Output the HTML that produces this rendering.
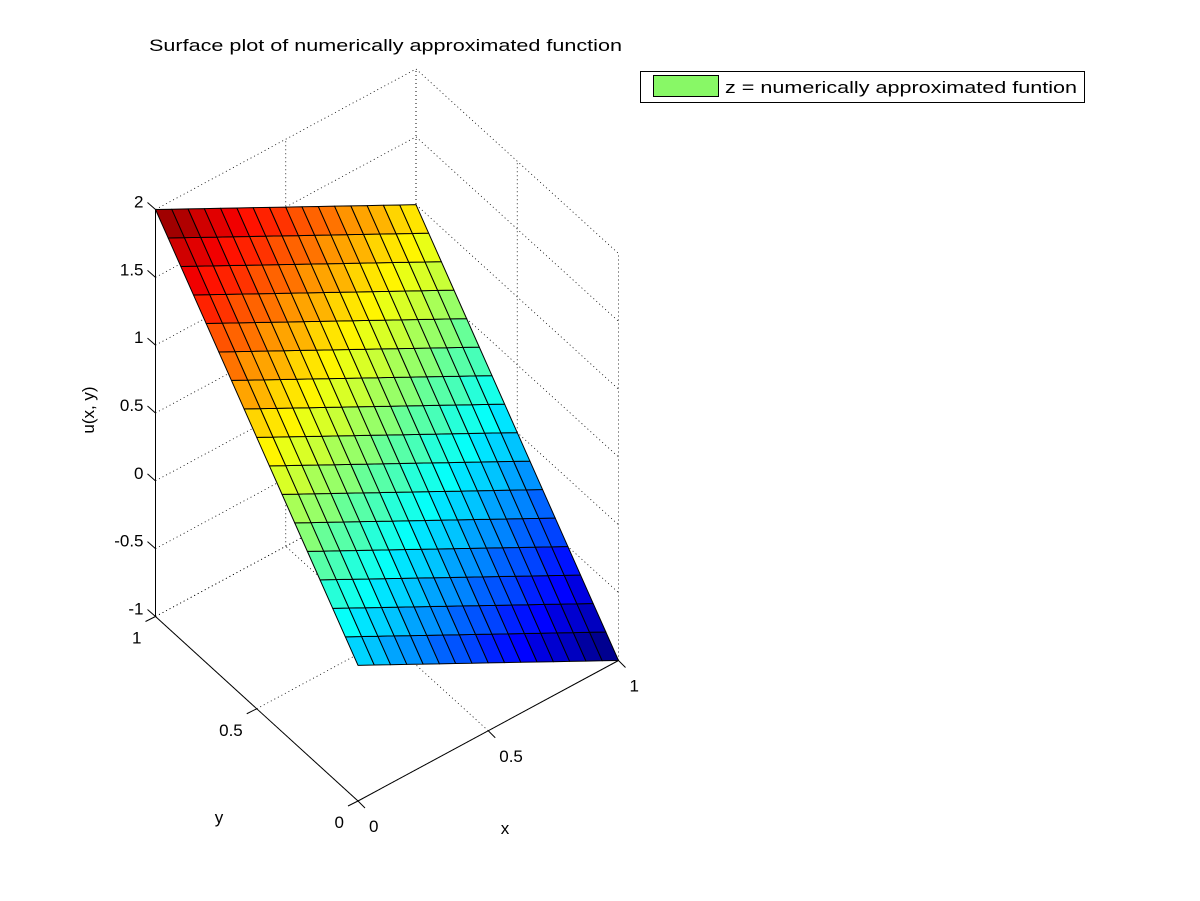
<!DOCTYPE html>
<html><head><meta charset="utf-8"><style>
html,body{margin:0;padding:0;background:#fff;}
svg{display:block;font-family:"Liberation Sans",Arial,sans-serif;}
</style></head><body>
<svg id="chart" width="1200" height="901" viewBox="0 0 1200 901" xmlns="http://www.w3.org/2000/svg">
<rect x="0" y="0" width="1200" height="901" fill="#fff"/>
<g id="grid"></g>
<g id="axes"></g>
<g id="surf"></g>
<text x="149" y="51" font-size="17" textLength="473" lengthAdjust="spacingAndGlyphs">Surface plot of numerically approximated function</text>
<text x="94" y="410" font-size="17" text-anchor="middle" transform="rotate(-90 94 410)">u(x, y)</text>
<text x="219" y="823" font-size="17" text-anchor="middle">y</text>
<text x="505" y="834" font-size="17" text-anchor="middle">x</text>
<g>
<rect x="640.5" y="71.5" width="444" height="31" fill="#fff" stroke="#000" stroke-width="1"/>
<rect x="653.5" y="75.5" width="65" height="21" fill="#88f866" stroke="#000" stroke-width="1"/>
<text x="725" y="93" font-size="17" textLength="352" lengthAdjust="spacingAndGlyphs">z = numerically approximated funtion</text>
</g>
</svg>
<script>
const xVals = [0,0.0625,0.125,0.1875,0.25,0.3125,0.375,0.4375,0.5,0.5625,0.625,0.6875,0.75,0.8125,0.875,0.9375,1];
const yVals = [0,0.0625,0.125,0.1875,0.25,0.3125,0.375,0.4375,0.5,0.5625,0.625,0.6875,0.75,0.8125,0.875,0.9375,1];
const zRows = [
[0,-0.0625,-0.125,-0.1875,-0.25,-0.3125,-0.375,-0.4375,-0.5,-0.5625,-0.625,-0.6875,-0.75,-0.8125,-0.875,-0.9375,-1],
[0.125,0.0625,0,-0.0625,-0.125,-0.1875,-0.25,-0.3125,-0.375,-0.4375,-0.5,-0.5625,-0.625,-0.6875,-0.75,-0.8125,-0.875],
[0.25,0.1875,0.125,0.0625,0,-0.0625,-0.125,-0.1875,-0.25,-0.3125,-0.375,-0.4375,-0.5,-0.5625,-0.625,-0.6875,-0.75],
[0.375,0.3125,0.25,0.1875,0.125,0.0625,0,-0.0625,-0.125,-0.1875,-0.25,-0.3125,-0.375,-0.4375,-0.5,-0.5625,-0.625],
[0.5,0.4375,0.375,0.3125,0.25,0.1875,0.125,0.0625,0,-0.0625,-0.125,-0.1875,-0.25,-0.3125,-0.375,-0.4375,-0.5],
[0.625,0.5625,0.5,0.4375,0.375,0.3125,0.25,0.1875,0.125,0.0625,0,-0.0625,-0.125,-0.1875,-0.25,-0.3125,-0.375],
[0.75,0.6875,0.625,0.5625,0.5,0.4375,0.375,0.3125,0.25,0.1875,0.125,0.0625,0,-0.0625,-0.125,-0.1875,-0.25],
[0.875,0.8125,0.75,0.6875,0.625,0.5625,0.5,0.4375,0.375,0.3125,0.25,0.1875,0.125,0.0625,0,-0.0625,-0.125],
[1,0.9375,0.875,0.8125,0.75,0.6875,0.625,0.5625,0.5,0.4375,0.375,0.3125,0.25,0.1875,0.125,0.0625,0],
[1.125,1.0625,1,0.9375,0.875,0.8125,0.75,0.6875,0.625,0.5625,0.5,0.4375,0.375,0.3125,0.25,0.1875,0.125],
[1.25,1.1875,1.125,1.0625,1,0.9375,0.875,0.8125,0.75,0.6875,0.625,0.5625,0.5,0.4375,0.375,0.3125,0.25],
[1.375,1.3125,1.25,1.1875,1.125,1.0625,1,0.9375,0.875,0.8125,0.75,0.6875,0.625,0.5625,0.5,0.4375,0.375],
[1.5,1.4375,1.375,1.3125,1.25,1.1875,1.125,1.0625,1,0.9375,0.875,0.8125,0.75,0.6875,0.625,0.5625,0.5],
[1.625,1.5625,1.5,1.4375,1.375,1.3125,1.25,1.1875,1.125,1.0625,1,0.9375,0.875,0.8125,0.75,0.6875,0.625],
[1.75,1.6875,1.625,1.5625,1.5,1.4375,1.375,1.3125,1.25,1.1875,1.125,1.0625,1,0.9375,0.875,0.8125,0.75],
[1.875,1.8125,1.75,1.6875,1.625,1.5625,1.5,1.4375,1.375,1.3125,1.25,1.1875,1.125,1.0625,1,0.9375,0.875],
[2,1.9375,1.875,1.8125,1.75,1.6875,1.625,1.5625,1.5,1.4375,1.375,1.3125,1.25,1.1875,1.125,1.0625,1]
];
const xTicks = [0,0.5,1];
const yTicks = [0,0.5,1];
const zTicks = [-1,-0.5,0,0.5,1,1.5,2];
const xTickLabels = ["0","0.5","1"];
const yTickLabels = ["0","0.5","1"];
const zTickLabels = ["-1","-0.5","0","0.5","1","1.5","2"];

const NS = "http://www.w3.org/2000/svg";
const zMin = -1, zMax = 2;
function P(x, y, z) {
  return [358 + 260.5 * x - 202.5 * y, 801 - 140.5 * x - 184.5 * y - 135.67 * (z - zMin)];
}
function jet(v) {
  let idx = Math.floor((v - zMin) / (zMax - zMin) * 64);
  idx = Math.max(0, Math.min(63, idx));
  const t = idx / 63;
  const c = a => Math.round(255 * Math.max(0, Math.min(1, a)));
  return `rgb(${c(Math.min(4*t-1.5, -4*t+4.5))},${c(Math.min(4*t-0.5, -4*t+3.5))},${c(Math.min(4*t+0.5, -4*t+2.5))})`;
}
function line(g, a, b, dotted, name) {
  const l = document.createElementNS(NS, "line");
  l.setAttribute("x1", a[0]); l.setAttribute("y1", a[1]);
  l.setAttribute("x2", b[0]); l.setAttribute("y2", b[1]);
  l.setAttribute("stroke", "#000");
  l.setAttribute("stroke-width", dotted ? "0.8" : "1");
  if (dotted) l.setAttribute("stroke-dasharray", "1,3");
  
  
  g.appendChild(l);
}
function text(g, x, y, s, anchor, name) {
  const t = document.createElementNS(NS, "text");
  t.setAttribute("x", x); t.setAttribute("y", y);
  t.setAttribute("font-size", "17");
  t.setAttribute("text-anchor", anchor);
  t.textContent = s;
  
  
  g.appendChild(t);
}
const grid = document.getElementById("grid");
const axes = document.getElementById("axes");
const surf = document.getElementById("surf");
// back wall y=1 and x=1
zTicks.forEach(z => {
  line(grid, P(0,1,z), P(1,1,z), true, "grid-line-z");
  line(grid, P(1,1,z), P(1,0,z), true, "grid-line-z");
});
xTicks.forEach(x => {
  line(grid, P(x,1,zMin), P(x,1,zMax), true, "grid-line-x");
  line(grid, P(x,0,zMin), P(x,1,zMin), true, "grid-line-x");
});
yTicks.forEach(y => {
  line(grid, P(1,y,zMin), P(1,y,zMax), true, "grid-line-y");
  line(grid, P(0,y,zMin), P(1,y,zMin), true, "grid-line-y");
});
// axes
line(axes, P(0,0,zMin), P(1,0,zMin), false, "x-axis-line");
line(axes, P(0,0,zMin), P(0,1,zMin), false, "y-axis-line");
line(axes, P(0,1,zMin), P(0,1,zMax), false, "z-axis-line");
xTicks.forEach((x, i) => {
  const p = P(x,0,zMin);
  line(axes, p, [p[0]+7, p[1]+7], false, "x-tick");
  text(axes, p[0]+11, p[1]+31, xTickLabels[i], "start", "x-tick-label");
});
yTicks.forEach((y, i) => {
  const p = P(0,y,zMin);
  line(axes, p, [p[0]-10, p[1]+5], false, "y-tick");
  text(axes, p[0]-14, p[1]+27, yTickLabels[i], "end", "y-tick-label");
});
zTicks.forEach((z, i) => {
  const p = P(0,1,z);
  line(axes, p, [p[0]-8, p[1]-7], false, "z-tick");
  text(axes, p[0]-12, p[1]-2, zTickLabels[i], "end", "z-tick-label");
});
// surface faces
for (let j = 0; j < yVals.length - 1; j++) {
  for (let i = 0; i < xVals.length - 1; i++) {
    const a = P(xVals[i], yVals[j], zRows[j][i]);
    const b = P(xVals[i+1], yVals[j], zRows[j][i+1]);
    const c = P(xVals[i+1], yVals[j+1], zRows[j+1][i+1]);
    const d = P(xVals[i], yVals[j+1], zRows[j+1][i]);
    const poly = document.createElementNS(NS, "polygon");
    poly.setAttribute("points", [a,b,c,d].map(q => q[0].toFixed(2)+","+q[1].toFixed(2)).join(" "));
    poly.setAttribute("fill", jet(zRows[j][i]));
    poly.setAttribute("stroke", "#000");
    poly.setAttribute("stroke-width", "1");
    poly.setAttribute("stroke-linejoin", "round");
    
    
    surf.appendChild(poly);
  }
}
</script>
</body></html>
